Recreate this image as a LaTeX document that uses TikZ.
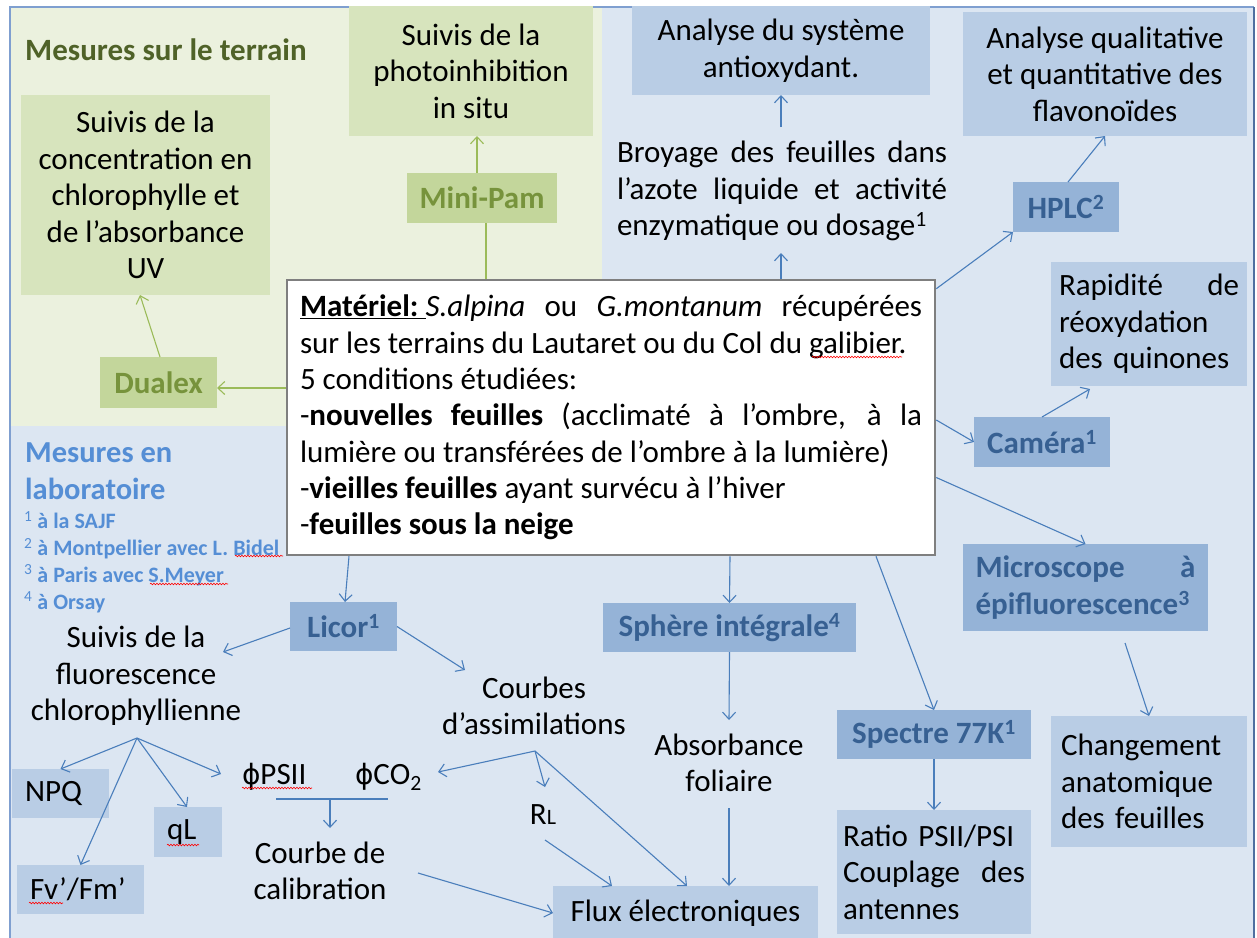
\documentclass[tikz,border=0pt]{standalone}
\usepackage{fontspec}
\setmainfont{Carlito}
\newfontfamily\phifont{DejaVu Sans}
\usetikzlibrary{arrows.meta,decorations.pathmorphing}

\definecolor{bgblue}{HTML}{DCE6F2}
\definecolor{bggreen}{HTML}{EBF1DE}
\definecolor{gboxc}{HTML}{D7E4BD}
\definecolor{gboxd}{HTML}{C3D69B}
\definecolor{gtexta}{HTML}{4F6228}
\definecolor{gtextb}{HTML}{77933C}
\definecolor{bboxc}{HTML}{B9CDE5}
\definecolor{bboxd}{HTML}{95B3D7}
\definecolor{btexta}{HTML}{376092}
\definecolor{btextb}{HTML}{558ED5}
\definecolor{arrblue}{HTML}{4A7EBB}
\definecolor{arrgreen}{HTML}{9BBB59}
\definecolor{framec}{HTML}{7F9FD0}
\definecolor{framed}{HTML}{4F6FA0}
\definecolor{boxgray}{HTML}{7F7F7F}

\newcommand\fnrm{\fontsize{31}{36.6}\selectfont}
\newcommand\fbld{\fontsize{31}{36.6}\selectfont\bfseries}
\newcommand\spreadx{\hskip 0pt plus 1filll\relax}
\newcommand\phig{{\phifont\fontsize{28}{28}\selectfont ϕ}}

\begin{document}
\begin{tikzpicture}[x=1pt,y=-1pt,
  gbox/.style={fill=gboxc, inner sep=0pt, outer sep=0pt, align=center, font=\fnrm},
  gboxb/.style={fill=gboxd, inner sep=0pt, outer sep=0pt, font=\fbld, text=gtextb},
  bbox/.style={fill=bboxc, inner sep=0pt, outer sep=0pt, font=\fnrm},
  bboxb/.style={fill=bboxd, inner sep=0pt, outer sep=0pt, font=\fbld, text=btexta},
  txt/.style={inner sep=0pt, outer sep=0pt, font=\fnrm, align=center},
  arr/.style={draw=arrblue, line width=1.1pt, -{Straight Barb[length=7pt,width=13pt]}},
  garr/.style={draw=arrgreen, line width=1.1pt, -{Straight Barb[length=7pt,width=13pt]}},
  gline/.style={draw=arrgreen, line width=1.1pt},
  bline/.style={draw=arrblue, line width=1.1pt},
  squig/.style={draw=red, line width=0.6pt, decorate, decoration={snake, amplitude=0.8pt, segment length=3pt}}
]
\useasboundingbox (0,0) rectangle (1257,937);
\clip (0,0) rectangle (1257,937);

% backgrounds
\fill[white] (0,0) rectangle (1257,937);
\fill[bgblue] (10,7) rectangle (1254,950);
\fill[bggreen] (11,8) rectangle (602,426);
\draw[framec, line width=2pt] (10,950) -- (10,7) -- (1254,7);
\draw[framed, line width=2pt] (1254,7) -- (1254,950);

% field measures (green)
\node[anchor=west, inner sep=0pt, font=\fontsize{31}{36}\selectfont\bfseries, text=gtexta] (terrain) at (25,50) {Mesures sur le terrain};
\node[gbox, minimum width=249pt, minimum height=200pt] (uv) at (145.5,195) {Suivis de la\\concentration en\\chlorophylle et\\de l’absorbance\\UV};
\node[gbox, minimum width=244pt, minimum height=130pt] (photo) at (471,71) {Suivis de la\\photoinhibition\\in situ};
\node[gboxb, minimum width=150pt, minimum height=50pt] (minipam) at (482,198) {Mini-Pam};
\node[gboxb, minimum width=117pt, minimum height=51pt] (dualex) at (158.5,382.5) {Dualex};

% lab (blue) boxes
\node[bbox, align=center, minimum width=298pt, minimum height=89pt] (antiox) at (781,50.5) {Analyse du système\\antioxydant.};
\node[txt, text width=330pt, align=justify] (broyage) at (782,191) {Broyage des feuilles dans\linebreak l’azote liquide et activité\linebreak enzymatique ou dosage\textsuperscript{1}};
\node[bbox, align=center, minimum width=284pt, minimum height=124pt] (flav) at (1105,74) {Analyse qualitative\\et quantitative des\\flavonoïdes};
\node[bboxb, minimum width=106pt, minimum height=50pt] (hplc) at (1066,207) {HPLC\textsuperscript{2}};
\node[bbox, align=left, text width=180pt, inner xsep=8pt, minimum height=124pt] (rapid) at (1149,324) {Rapidité\spreadx de\\réoxydation\\des quinones};
\node[bboxb, minimum width=136pt, minimum height=50pt] (camera) at (1042,442) {Caméra\textsuperscript{1}};
\node[bboxb, align=left, text width=220pt, inner xsep=12.5pt, minimum height=87pt] (micro) at (1085.5,587.5) {Microscope\spreadx à\\épifluorescence\textsuperscript{3}};
\node[bboxb, minimum width=194pt, minimum height=49pt] (spectre) at (934,734.5) {Spectre 77K\textsuperscript{1}};
\node[bbox, align=left, text width=182pt, inner xsep=6pt, minimum height=124pt] (ratio) at (934,872) {Ratio PSII/PSI\\Couplage\spreadx des\\antennes};
\node[bbox, align=left, text width=176pt, inner xsep=10pt, minimum height=131pt] (change) at (1149,781.5) {Changement\\anatomique\\des feuilles};
\node[bboxb, minimum width=253pt, minimum height=49pt] (sphere) at (729.5,627.5) {Sphère intégrale\textsuperscript{4}};
\node[txt] (absorb) at (729,763) {Absorbance\\foliaire};
\node[bbox, minimum width=265pt, minimum height=54pt] (flux) at (685.5,913) {Flux électroniques};
\node[txt] (courbes) at (534,706) {Courbes\\d’assimilations};
\node[txt] (rl) at (543,815) {R{\fontsize{22}{22}\selectfont L}};
\node[txt] (cal) at (320,871) {Courbe de\\calibration};
\node[txt, anchor=west] (phipsii) at (242,777) {\phig PSII};
\node[txt, anchor=west] (phico) at (355,777) {\phig CO\textsubscript{2}};
\node[bboxb, minimum width=107pt, minimum height=49pt] (licor) at (343.5,626.5) {Licor\textsuperscript{1}};
\node[txt] (fluo) at (136,676) {Suivis de la\\fluorescence\\chlorophyllienne};
\node[bbox, align=left, text width=71pt, inner xsep=13pt, minimum height=49pt] (npq) at (60.5,793.5) {NPQ};
\node[bbox, align=left, text width=42pt, inner xsep=13pt, minimum height=50pt] (ql) at (188,832) {qL};
\node[bbox, align=left, text width=101pt, inner xsep=13pt, minimum height=49pt] (fv) at (80.5,889.5) {Fv’/Fm’};
\node[anchor=west, inner sep=0pt, align=left, font=\fontsize{30.5}{37}\selectfont\bfseries, text=btextb] (labo) at (25,471) {Mesures en\\laboratoire};
\node[anchor=west, inner sep=0pt, align=left, font=\fontsize{22}{26.7}\selectfont\bfseries, text=btextb] (notes) at (24,562) {{\mdseries\textsuperscript{1}} à la SAJF\\{\mdseries\textsuperscript{2}} à Montpellier avec L. Bidel\\{\mdseries\textsuperscript{3}} à Paris avec S.Meyer\\{\mdseries\textsuperscript{4}} à Orsay};

% central material box
\node[draw=boxgray, line width=2.5pt, fill=white, minimum width=648pt, minimum height=275pt, inner sep=0pt, text width=622pt, align=justify, font=\fontsize{31}{36.3}\selectfont] (main) at (611,417.5)
{\underline{\textbf{Matériel:}\ }\textit{S.alpina} ou \textit{G.montanum} récupérées\linebreak
sur les terrains du Lautaret ou du Col du galibier.\\
5 conditions étudiées:\\
-\textbf{nouvelles feuilles} (acclimaté à l’ombre, à la\linebreak
lumière ou transférées de l’ombre à la lumière)\\
-\textbf{vieilles feuilles} ayant survécu à l’hiver\\
-\textbf{feuilles sous la neige}};

% helper coordinates (free ends near plain text)
\coordinate (broyTop) at (781,127);
\coordinate (broyBot) at (781,253);
\coordinate (microBot) at (1125,643);
\coordinate (absTop) at (729,720);
\coordinate (absBot) at (729,808);
\coordinate (fluoIn) at (223,652);
\coordinate (courbIn) at (465,670);
\coordinate (fluoBot) at (137,738);
\coordinate (psiiIn) at (221,774);
\coordinate (barL) at (276,799);
\coordinate (barR) at (388,799);
\coordinate (barM) at (330,799);
\coordinate (calTop) at (330,828);
\coordinate (courbBot) at (535,751);
\coordinate (co2In) at (438,772);
\coordinate (rlTop) at (545,787);
\coordinate (rlBot) at (545,840);
\coordinate (calOut) at (418,873);

% green connectors
\draw[garr] ([xshift=-5pt]minipam.north) -- ([xshift=6pt]photo.south);
\draw[gline] ([xshift=-125pt]main.north) -- ([xshift=4pt]minipam.south);
\draw[garr] ([yshift=29.5pt]main.west) -- ([yshift=-5.5pt]dualex.east);
\draw[garr] ([xshift=1.5pt]dualex.north) -- ([xshift=-5.5pt]uv.south);

% blue connectors
\draw[arr] (broyTop) -- (antiox.south);
\draw[arr] ([xshift=170pt]main.north) -- (broyBot);
\draw[arr] ([yshift=-10pt]main.north east) -- (hplc.south west);
\draw[arr] ([xshift=2pt]hplc.north) -- (flav.south);
\draw[arr] ([yshift=-2.5pt]main.east) -- (camera.west);
\draw[arr] (camera.north) -- ([xshift=-59pt,yshift=-3pt]rapid.south);
\draw[arr] ([yshift=-60pt]main.east) -- (micro.north);
\draw[arr] (microBot) -- (change.north);
\draw[arr] ([xshift=265pt]main.south) -- (spectre.north);
\draw[arr] (spectre.south) -- (ratio.north);
\draw[arr] ([xshift=119pt]main.south) -- (sphere.north);
\draw[arr] (sphere.south) -- (absTop);
\draw[arr] (absBot) -- ([xshift=43.5pt]flux.north);
\draw[arr] ([xshift=-262pt]main.south) -- ([xshift=1.5pt]licor.north);
\draw[arr] ([yshift=-1.5pt]licor.west) -- (fluoIn);
\draw[arr] (licor.east) -- (courbIn);
\draw[arr] (fluoBot) -- (npq.north);
\draw[arr] (fluoBot) -- (fv.north);
\draw[arr] (fluoBot) -- ([xshift=-1pt]ql.north);
\draw[arr] (fluoBot) -- (psiiIn);
\draw[bline] (barL) -- (barR);
\draw[arr] (barM) -- (calTop);
\draw[arr] (courbBot) -- (co2In);
\draw[arr] (courbBot) -- (rlTop);
\draw[arr] (courbBot) -- ([xshift=1.5pt]flux.north);
\draw[arr] (rlBot) -- ([xshift=-73.5pt]flux.north);
\draw[arr] (calOut) -- (flux.west);

% spell-check squiggles as in the picture
\draw[squig] (812,357) -- (902,357);
\draw[squig] (235,556) -- (283,556);
\draw[squig] (150,584) -- (228,584);
\draw[squig] (242,788) -- (312,788);
\draw[squig] (167,845) -- (199,845);
\draw[squig] (29,903) -- (63,903);
\end{tikzpicture}
\end{document}
